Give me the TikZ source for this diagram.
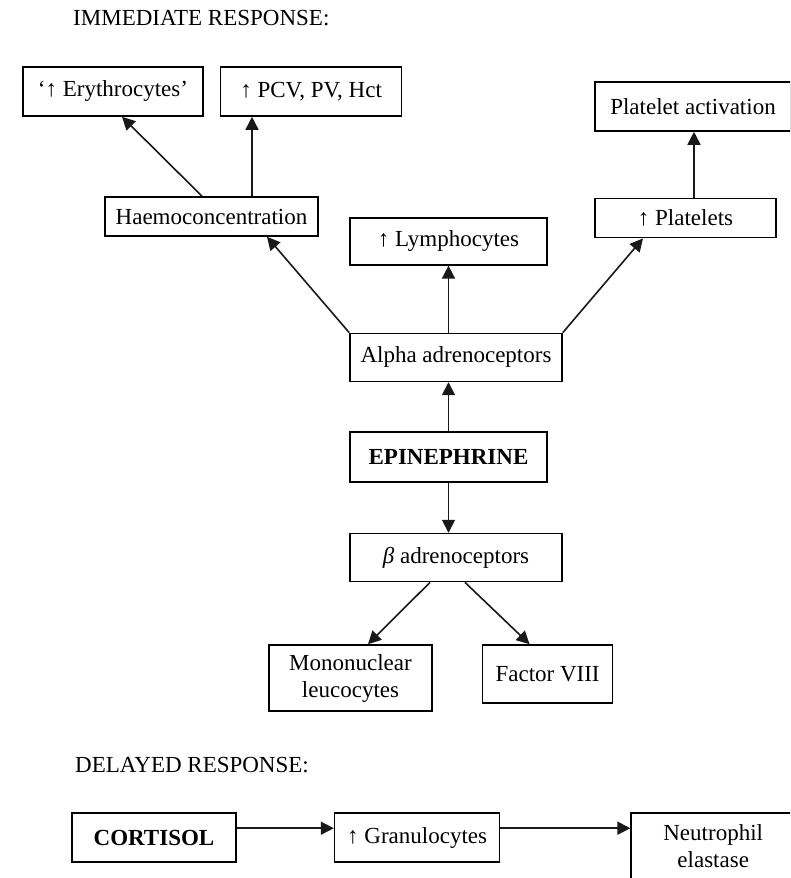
\documentclass[tikz,border=0pt]{standalone}
\usepackage{fontspec}
\setmainfont{Liberation Serif}
\usetikzlibrary{arrows.meta, positioning}

\begin{document}
\begin{tikzpicture}[
        x=1pt, y=-1pt,
        box/.style={
            rectangle,
            draw=black,
            line width=1.6pt,
            inner sep=2pt,
            align=center,
            font=\fontsize{23}{27}\selectfont
        },
        head/.style={
            anchor=base west,
            inner sep=0pt,
            font=\fontsize{23}{27}\selectfont
        },
        arrow/.style={-{Triangle[length=13pt,width=13pt]}, line width=1.6pt, draw=black!90}
    ]

    \useasboundingbox (0,0) rectangle (790,878);
    \clip (0,0) rectangle (790,878);

    \node (immhead) [head] at (73,25) {IMMEDIATE RESPONSE:};
    \node (delhead) [head] at (75,772) {DELAYED RESPONSE:};

    \node (epi) [box, minimum width=197pt, minimum height=50pt] at (448.5,457) {\textbf{EPINEPHRINE}};
    \node (alpha) [box, minimum width=212pt, minimum height=48pt, above=49pt of epi.north west, anchor=south west] {Alpha adrenoceptors};
    \node (lymph) [box, minimum width=197pt, minimum height=47pt, above=67pt of alpha.north west, anchor=south west] {↑ Lymphocytes};
    \node (beta) [box, minimum width=212pt, minimum height=48pt, below=50pt of epi.south west, anchor=north west] {\textit{β} adrenoceptors};
    \node (mono) [box, minimum width=163pt, minimum height=66pt] at (350.5,678) {Mononuclear\\leucocytes};
    \node (f8) [box, minimum width=130pt, minimum height=58pt, right=49pt of mono.north east, anchor=north west] {Factor VIII};

    \node (haemo) [box, minimum width=213pt, minimum height=39pt] at (211.5,216.5) {Haemoconcentration};
    \node (ery) [box, minimum width=180pt, minimum height=49pt] at (113,91.5) {‘↑ Erythrocytes’};
    \node (pcv) [box, minimum width=181pt, minimum height=49pt, right=16pt of ery] {↑ PCV, PV, Hct};
    \node (platact) [box, minimum width=196pt, minimum height=49pt] at (693,106.5) {Platelet activation};
    \node (plat) [box, minimum width=181pt, minimum height=39pt, below=66pt of platact.south west, anchor=north west] {↑ Platelets};

    \node (cort) [box, minimum width=164pt, minimum height=49pt] at (154,837.5) {\textbf{CORTISOL}};
    \node (gran) [box, minimum width=165pt, minimum height=49pt, right=97pt of cort] {↑ Granulocytes};
    \node (neut) [box, minimum width=164pt, minimum height=67pt, right=130pt of gran.north east, anchor=north west] {Neutrophil\\elastase};

    \coordinate (hp) at ([xshift=40.5pt]haemo.north);
    \coordinate (pp) at ([xshift=8.5pt]plat.north);

    \draw [arrow] (epi.north) -- (epi.north |- alpha.south);
    \draw [arrow] (epi.south) -- (epi.south |- beta.north);
    \draw [arrow] (lymph.south |- alpha.north) -- (lymph.south);
    \draw [arrow] (alpha.north west) -- ([xshift=55.5pt]haemo.south);
    \draw [arrow] (alpha.north east) -- ([xshift=-42.5pt]plat.south);
    \draw [arrow] ([xshift=-9.5pt]haemo.north) -- ([xshift=9pt]ery.south);
    \draw [arrow] (hp) -- (hp |- pcv.south);
    \draw [arrow] (pp) -- (pp |- platact.south);
    \draw [arrow] ([xshift=-26pt]beta.south) -- ([xshift=17.5pt]mono.north);
    \draw [arrow] ([xshift=9pt]beta.south) -- ([xshift=-18pt]f8.north);
    \draw [arrow] ([yshift=-16pt]cort.north east) -- ([yshift=-16pt]gran.north west);
    \draw [arrow] ([yshift=-16pt]gran.north east) -- ([yshift=-16pt]neut.north west);

\end{tikzpicture}
\end{document}
